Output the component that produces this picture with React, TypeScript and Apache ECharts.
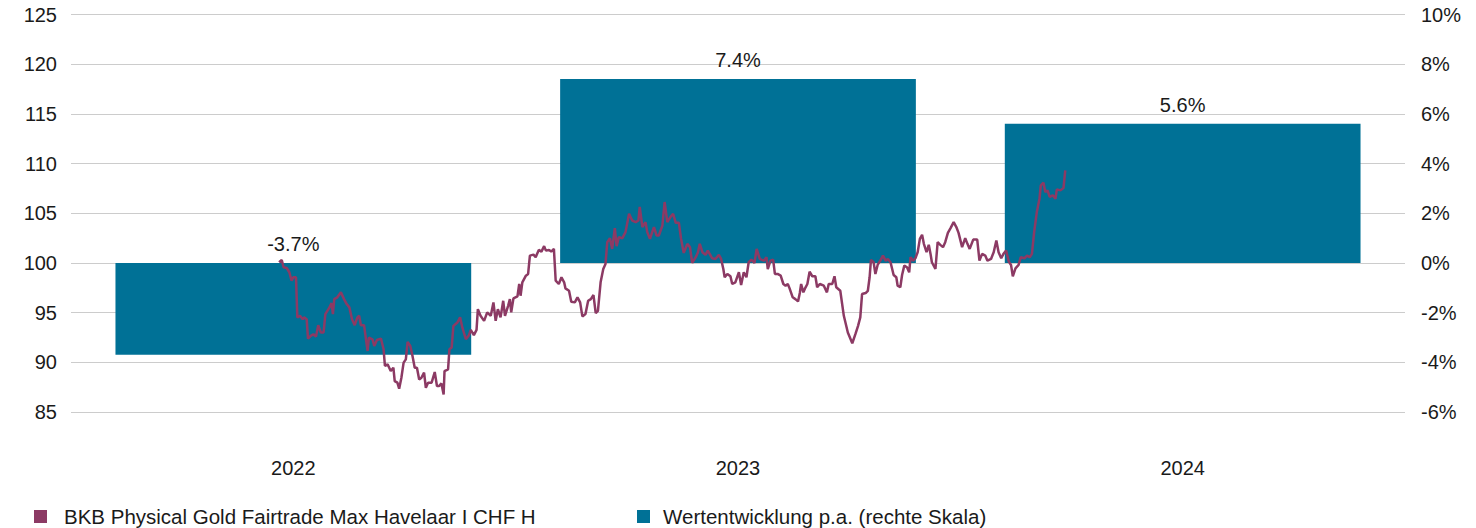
import React, { useEffect, useRef } from "react";
import * as echarts from "echarts";

// ---------- data ----------
const categories: string[] = ["2022", "2023", "2024"];
const annualReturns: number[] = [-3.7, 7.4, 5.6];

const leftMin = 85;
const leftMax = 125;
const leftStep = 5;
const rightMin = -6;
const rightMax = 10;
const rightStep = 2;

const FUND_NAME = "BKB Physical Gold Fairtrade Max Havelaar I CHF H";
const BAR_NAME = "Wertentwicklung p.a. (rechte Skala)";

// [time in decimal years, indexed price]
const fundPrices: [number, number][] = [
  [2022.468, 100.07], [2022.474, 100.3], [2022.478, 99.57], [2022.485, 99.49], [2022.491, 99.06],
  [2022.496, 98.21], [2022.5, 98.56], [2022.506, 98.56], [2022.509, 94.52], [2022.515, 94.68],
  [2022.521, 94.34], [2022.524, 94.52], [2022.53, 94.34], [2022.533, 92.39], [2022.539, 92.66],
  [2022.545, 92.83], [2022.551, 92.6], [2022.556, 93.74], [2022.562, 93.0], [2022.568, 93.0],
  [2022.572, 94.85], [2022.58, 95.42], [2022.586, 95.96], [2022.589, 94.85], [2022.592, 96.36],
  [2022.599, 96.54], [2022.607, 97.04], [2022.614, 96.36], [2022.62, 95.86], [2022.626, 95.53],
  [2022.632, 94.34], [2022.638, 93.74], [2022.644, 94.52], [2022.648, 94.68], [2022.652, 93.74],
  [2022.659, 93.74], [2022.667, 91.14], [2022.67, 92.49], [2022.678, 92.32], [2022.682, 91.65],
  [2022.688, 92.25], [2022.697, 92.39], [2022.703, 91.31], [2022.706, 89.63], [2022.712, 89.8],
  [2022.719, 89.12], [2022.725, 89.46], [2022.728, 88.11], [2022.734, 87.95], [2022.738, 87.34],
  [2022.743, 88.45], [2022.748, 89.97], [2022.753, 90.3], [2022.757, 92.05], [2022.763, 91.65],
  [2022.768, 90.64], [2022.773, 89.46], [2022.778, 89.46], [2022.783, 88.28], [2022.788, 88.45],
  [2022.794, 88.96], [2022.798, 87.44], [2022.803, 87.95], [2022.811, 87.95], [2022.818, 89.02],
  [2022.823, 87.61], [2022.828, 87.61], [2022.833, 87.88], [2022.838, 86.77], [2022.84, 89.12],
  [2022.848, 89.29], [2022.851, 91.31], [2022.856, 91.48], [2022.86, 93.67], [2022.869, 94.01],
  [2022.875, 94.52], [2022.88, 93.51], [2022.888, 92.32], [2022.895, 92.73], [2022.899, 93.26],
  [2022.906, 92.73], [2022.912, 93.26], [2022.915, 95.35], [2022.921, 94.68], [2022.929, 94.17],
  [2022.936, 95.02], [2022.944, 94.68], [2022.95, 96.03], [2022.955, 94.17], [2022.96, 95.35],
  [2022.966, 94.52], [2022.972, 96.19], [2022.976, 94.68], [2022.983, 95.69], [2022.987, 96.36],
  [2022.99, 95.02], [2022.995, 96.43], [2023.004, 96.64], [2023.008, 97.88], [2023.011, 96.7],
  [2023.015, 98.05], [2023.023, 98.72], [2023.028, 98.89], [2023.032, 100.74], [2023.04, 100.84],
  [2023.045, 100.58], [2023.052, 101.31], [2023.058, 101.14], [2023.064, 101.69], [2023.068, 101.24],
  [2023.075, 101.31], [2023.08, 101.14], [2023.086, 101.41], [2023.09, 98.21], [2023.097, 97.88],
  [2023.103, 98.56], [2023.109, 98.05], [2023.112, 97.44], [2023.12, 97.2], [2023.125, 96.09],
  [2023.133, 96.03], [2023.139, 96.54], [2023.145, 96.03], [2023.15, 94.62], [2023.157, 94.85],
  [2023.163, 96.19], [2023.169, 96.36], [2023.175, 96.77], [2023.18, 94.95], [2023.185, 95.18],
  [2023.191, 98.05], [2023.197, 99.39], [2023.202, 99.9], [2023.206, 102.09], [2023.212, 102.49],
  [2023.217, 101.41], [2023.223, 103.51], [2023.227, 101.69], [2023.232, 102.6], [2023.24, 102.49],
  [2023.247, 103.1], [2023.255, 104.95], [2023.262, 104.27], [2023.27, 104.11], [2023.276, 104.27],
  [2023.279, 105.63], [2023.285, 103.61], [2023.292, 104.11], [2023.296, 103.1], [2023.302, 102.42],
  [2023.307, 103.1], [2023.311, 103.61], [2023.317, 102.76], [2023.322, 102.76], [2023.33, 103.77],
  [2023.335, 106.13], [2023.341, 104.1], [2023.348, 104.62], [2023.354, 104.95], [2023.36, 104.04],
  [2023.367, 104.04], [2023.372, 102.42], [2023.378, 101.01], [2023.386, 101.92], [2023.392, 101.59],
  [2023.397, 100.0], [2023.405, 100.58], [2023.41, 101.08], [2023.414, 101.92], [2023.42, 101.08],
  [2023.427, 100.81], [2023.432, 101.24], [2023.442, 100.47], [2023.449, 100.4], [2023.457, 100.81],
  [2023.462, 100.4], [2023.467, 99.39], [2023.47, 98.56], [2023.476, 98.89], [2023.483, 98.66],
  [2023.487, 97.88], [2023.494, 98.05], [2023.502, 99.06], [2023.507, 97.78], [2023.513, 99.06],
  [2023.519, 98.56], [2023.524, 100.07], [2023.53, 100.33], [2023.537, 100.0], [2023.542, 101.41],
  [2023.549, 100.4], [2023.558, 100.23], [2023.564, 100.58], [2023.567, 99.39], [2023.573, 100.23],
  [2023.579, 100.33], [2023.583, 98.89], [2023.589, 98.89], [2023.596, 98.72], [2023.602, 97.88],
  [2023.607, 97.71], [2023.612, 97.88], [2023.616, 97.44], [2023.623, 96.54], [2023.629, 96.36],
  [2023.635, 96.13], [2023.639, 96.97], [2023.642, 97.88], [2023.647, 97.04], [2023.652, 97.55],
  [2023.656, 97.88], [2023.661, 99.12], [2023.667, 98.66], [2023.674, 98.66], [2023.678, 97.55],
  [2023.684, 97.88], [2023.693, 97.71], [2023.7, 97.04], [2023.704, 97.88], [2023.712, 97.88],
  [2023.717, 98.66], [2023.721, 97.55], [2023.73, 97.2], [2023.738, 94.68], [2023.747, 93.0],
  [2023.757, 91.92], [2023.764, 92.83], [2023.77, 93.67], [2023.775, 94.52], [2023.779, 96.87],
  [2023.787, 96.97], [2023.792, 97.2], [2023.796, 98.56], [2023.799, 100.3], [2023.805, 100.07],
  [2023.809, 98.89], [2023.814, 99.8], [2023.82, 100.23], [2023.826, 100.74], [2023.832, 100.23],
  [2023.837, 100.4], [2023.843, 100.07], [2023.85, 98.79], [2023.856, 98.56], [2023.859, 97.71],
  [2023.865, 97.55], [2023.869, 98.79], [2023.874, 99.73], [2023.88, 99.57], [2023.885, 99.06],
  [2023.888, 100.58], [2023.894, 100.23], [2023.899, 100.47], [2023.904, 101.08], [2023.909, 102.42],
  [2023.914, 102.83], [2023.918, 101.92], [2023.924, 101.08], [2023.929, 101.82], [2023.933, 100.91],
  [2023.936, 100.07], [2023.944, 99.39], [2023.949, 102.09], [2023.955, 101.82], [2023.961, 101.59],
  [2023.966, 102.09], [2023.972, 103.03], [2023.978, 103.51], [2023.985, 104.11], [2023.991, 103.61],
  [2023.996, 103.03], [2024.004, 101.59], [2024.011, 102.49], [2024.016, 101.92], [2024.021, 101.41],
  [2024.029, 102.35], [2024.038, 102.35], [2024.043, 100.23], [2024.049, 100.91], [2024.056, 100.74],
  [2024.061, 100.23], [2024.069, 100.4], [2024.075, 101.08], [2024.081, 102.25], [2024.086, 101.08],
  [2024.092, 100.47], [2024.097, 100.91], [2024.103, 101.24], [2024.109, 100.13], [2024.114, 99.8],
  [2024.118, 98.66], [2024.124, 99.46], [2024.131, 99.8], [2024.136, 100.58], [2024.144, 100.47],
  [2024.15, 100.74], [2024.156, 100.58], [2024.161, 100.91], [2024.166, 103.1], [2024.172, 105.12],
  [2024.178, 106.46], [2024.181, 107.81], [2024.187, 108.08], [2024.191, 107.14], [2024.196, 107.3],
  [2024.201, 106.64], [2024.208, 106.8], [2024.214, 106.46], [2024.217, 107.4], [2024.225, 107.3],
  [2024.232, 107.55], [2024.236, 109.32],
];

const timeMin = 2022;
const timeMax = 2025;

// ---------- styles ----------
const FONT = "'Liberation Sans', Arial, Helvetica, sans-serif";
const TEXT = "#1a1a1a";
const BAR_COLOR = "#007196";
const LINE_COLOR = "#8c3a64";
const GRID_COLOR = "#cccccc";

export default function App() {
  const ref = useRef<HTMLDivElement>(null);

  useEffect(() => {
    document.body.style.margin = "0";
    if (!ref.current) return;
    const chart = echarts.init(ref.current, null, { renderer: "svg" });

    const legendBase = {
      icon: "rect",
      itemWidth: 13,
      itemHeight: 13,
      top: 506,
      padding: 0,
      selectedMode: false,
    };

    chart.setOption({
      animation: false,
      textStyle: { fontFamily: FONT, color: TEXT },
      grid: { left: 71, right: 71, top: 14.5, bottom: 116, containLabel: false },
      legend: [
        {
          ...legendBase,
          left: 34,
          data: [FUND_NAME],
          textStyle: { fontSize: 20.5, color: TEXT, fontFamily: FONT, padding: [0, 0, 0, 12] },
        },
        {
          ...legendBase,
          left: 637,
          data: [BAR_NAME],
          textStyle: { fontSize: 20.5, color: TEXT, fontFamily: FONT, padding: [0, 0, 0, 8] },
        },
      ],
      xAxis: [
        {
          type: "category",
          data: categories,
          axisLine: { show: false },
          axisTick: { show: false },
          axisLabel: { margin: 46, fontSize: 20, color: TEXT, fontFamily: FONT },
          splitLine: { show: false },
        },
        {
          type: "value",
          min: timeMin,
          max: timeMax,
          show: false,
          splitLine: { show: false },
        },
      ],
      yAxis: [
        {
          type: "value",
          min: leftMin,
          max: leftMax,
          interval: leftStep,
          position: "left",
          axisLine: { show: false },
          axisTick: { show: false },
          axisLabel: { margin: 14, fontSize: 20, color: TEXT, fontFamily: FONT },
          splitLine: { show: true, lineStyle: { color: GRID_COLOR, width: 1 } },
        },
        {
          type: "value",
          min: rightMin,
          max: rightMax,
          interval: rightStep,
          position: "right",
          axisLine: { show: false },
          axisTick: { show: false },
          axisLabel: {
            margin: 16,
            fontSize: 20,
            color: TEXT,
            fontFamily: FONT,
            formatter: (v: number) => `${v}%`,
          },
          splitLine: { show: false },
        },
      ],
      series: [
        {
          name: BAR_NAME,
          type: "bar",
          xAxisIndex: 0,
          yAxisIndex: 1,
          data: annualReturns,
          barWidth: "80%",
          itemStyle: { color: BAR_COLOR },
          label: {
            show: true,
            position: "top",
            distance: 9,
            fontSize: 20,
            color: TEXT,
            fontFamily: FONT,
            formatter: (p: any) => `${Number(p.value).toFixed(1)}%`,
          },
          z: 2,
        },
        {
          name: FUND_NAME,
          type: "line",
          xAxisIndex: 1,
          yAxisIndex: 0,
          data: fundPrices,
          showSymbol: false,
          symbol: "none",
          lineStyle: { width: 2.5, color: LINE_COLOR },
          itemStyle: { color: LINE_COLOR },
          z: 3,
        },
      ],
    });

    return () => chart.dispose();
  }, []);

  return <div ref={ref} style={{ width: 1476, height: 528 }} />;
}
